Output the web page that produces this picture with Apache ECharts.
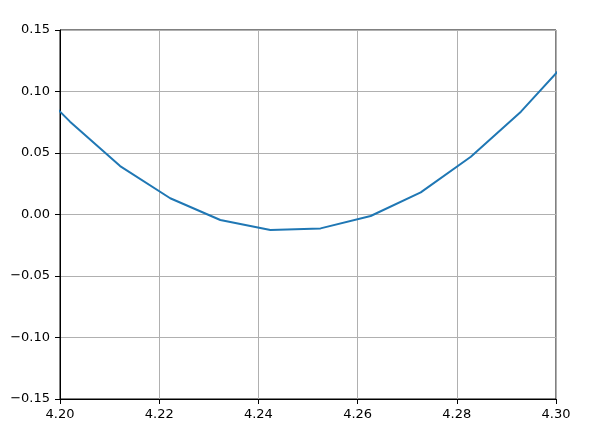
<!DOCTYPE html>
<html>
<head>
<meta charset="utf-8">
<script src="https://cdn.jsdelivr.net/npm/echarts@6/dist/echarts.min.js"></script>
<style>
  html, body { margin: 0; padding: 0; background: #fff; }
  #main { width: 595px; height: 446px; }
</style>
</head>
<body>
<div id="main"></div>
<script>
// sample points (outer two lie just past the axis limits and get clipped)
var xValues = [4.19192, 4.20202, 4.21212, 4.22222, 4.23232, 4.24242, 4.25253, 4.26263, 4.27273, 4.28283, 4.29293, 4.30303];
var yValues = [0.116, 0.0755, 0.0394, 0.0132, -0.0045, -0.0126, -0.0113, -0.0012, 0.0180, 0.0470, 0.0836, 0.1282];
var xTicks = [4.20, 4.22, 4.24, 4.26, 4.28, 4.30];
var yTicks = [-0.15, -0.10, -0.05, 0.00, 0.05, 0.10, 0.15];

var chart = echarts.init(document.getElementById('main'));

var pts = xValues.map(function (x, i) { return [x, yValues[i]]; });

function fmt(v) {
  return v < 0 ? '\u2212' + Math.abs(v).toFixed(2) : v.toFixed(2);
}

var option = {
  animation: false,
  grid: {
    left: 60, right: 39, top: 30, bottom: 47,
    show: true, borderColor: '#000', borderWidth: 1
  },
  xAxis: {
    type: 'value',
    min: xTicks[0], max: xTicks[xTicks.length - 1], interval: 0.02,
    axisLine: { onZero: false, lineStyle: { color: '#000', width: 1 } },
    axisTick: { show: true, length: 5, lineStyle: { color: '#000' } },
    axisLabel: {
      color: '#000', fontFamily: 'DejaVu Sans', fontSize: 13, margin: 9,
      formatter: function (v) { return v.toFixed(2); }
    },
    splitLine: { show: true, lineStyle: { color: '#b0b0b0', width: 1 } }
  },
  yAxis: {
    type: 'value',
    min: yTicks[0], max: yTicks[yTicks.length - 1], interval: 0.05,
    axisLine: { show: true, onZero: false, lineStyle: { color: '#000', width: 1 } },
    axisTick: { show: true, length: 5, lineStyle: { color: '#000' } },
    axisLabel: {
      color: '#000', fontFamily: 'DejaVu Sans', fontSize: 13, margin: 10,
      formatter: fmt
    },
    splitLine: { show: true, lineStyle: { color: '#b0b0b0', width: 1 } }
  },
  series: [{
    type: 'line',
    data: pts,
    showSymbol: false,
    clip: true,
    lineStyle: { color: '#1f77b4', width: 2 }
  }]
};

option && chart.setOption(option);
</script>
</body>
</html>
